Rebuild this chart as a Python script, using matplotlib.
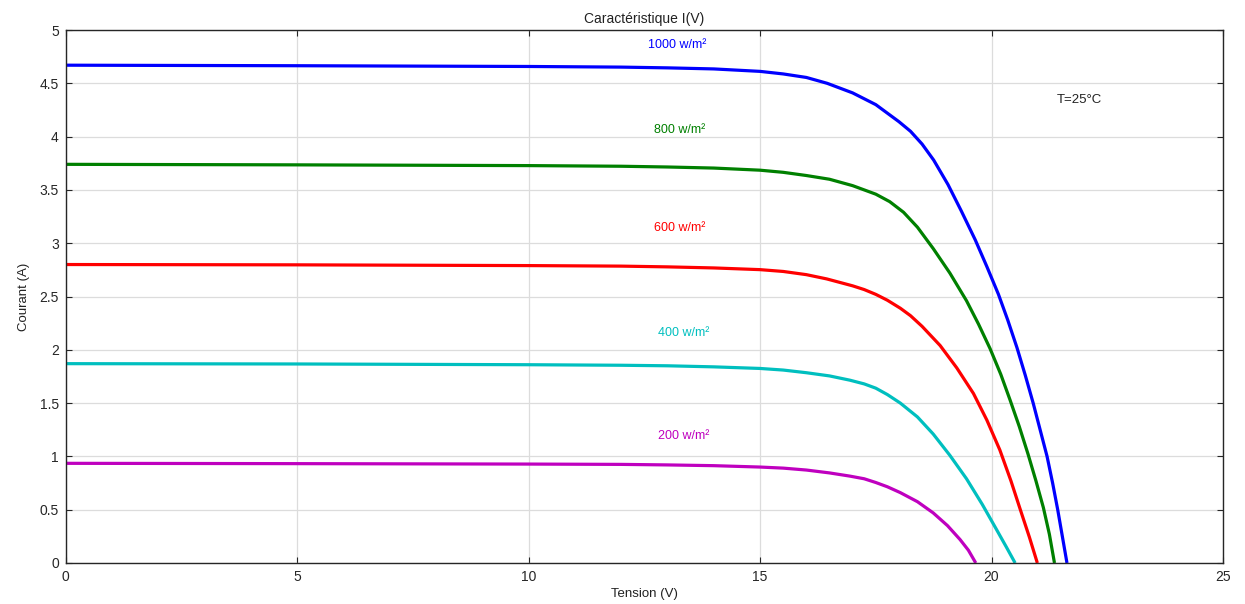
import matplotlib.pyplot as plt

plt.rcParams['font.family'] = ['Liberation Sans', 'DejaVu Sans']

# I(V) curves, one per irradiance
v_1000 = [0, 5, 10, 12, 13, 14, 15, 15.5, 16, 16.45, 17, 17.5, 18, 18.25, 18.5, 18.75, 19.06, 19.35, 19.65, 19.9,
          20.15, 20.35, 20.55, 20.73, 20.9, 21.05, 21.2, 21.32, 21.43, 21.53, 21.63]
i_1000 = [4.670, 4.665, 4.658, 4.652, 4.645, 4.635, 4.612, 4.588, 4.555, 4.50, 4.41, 4.30, 4.14, 4.05, 3.93, 3.78,
          3.55, 3.30, 3.03, 2.78, 2.52, 2.28, 2.02, 1.76, 1.50, 1.25, 1.00, 0.75, 0.50, 0.25, 0]

v_800 = [0, 5, 10, 12, 13, 14, 15, 15.5, 16, 16.5, 17, 17.5, 17.8, 18.1, 18.4, 18.74, 19.1, 19.46, 19.72, 19.97,
         20.2, 20.4, 20.6, 20.79, 20.96, 21.12, 21.25, 21.36]
i_800 = [3.740, 3.735, 3.728, 3.722, 3.715, 3.705, 3.685, 3.665, 3.635, 3.60, 3.54, 3.46, 3.39, 3.29, 3.15, 2.95,
         2.72, 2.46, 2.24, 2.01, 1.77, 1.53, 1.28, 1.02, 0.77, 0.52, 0.27, 0]

v_600 = [0, 5, 10, 12, 13, 14, 15, 15.5, 16, 16.44, 17, 17.25, 17.5, 17.75, 18.03, 18.25, 18.5, 18.89, 19.25,
         19.61, 19.9, 20.18, 20.42, 20.63, 20.82, 20.99]
i_600 = [2.800, 2.797, 2.790, 2.785, 2.778, 2.768, 2.752, 2.735, 2.705, 2.665, 2.60, 2.565, 2.52, 2.465, 2.39,
         2.32, 2.22, 2.04, 1.83, 1.59, 1.34, 1.06, 0.77, 0.49, 0.24, 0]

v_400 = [0, 5, 10, 12, 13, 14, 15, 15.5, 16, 16.5, 16.94, 17.25, 17.5, 17.75, 18.03, 18.4, 18.74, 19.1, 19.46,
         19.8, 20.1, 20.32, 20.51]
i_400 = [1.870, 1.867, 1.860, 1.855, 1.850, 1.840, 1.825, 1.810, 1.785, 1.755, 1.715, 1.68, 1.64, 1.58, 1.50,
         1.37, 1.21, 1.01, 0.79, 0.55, 0.32, 0.15, 0]

v_200 = [0, 5, 10, 12, 13, 14, 15, 15.5, 16, 16.5, 16.94, 17.25, 17.5, 17.75, 18.03, 18.4, 18.74, 19.05, 19.32,
         19.5, 19.66]
i_200 = [0.935, 0.932, 0.928, 0.925, 0.920, 0.913, 0.900, 0.890, 0.872, 0.845, 0.815, 0.79, 0.755, 0.715, 0.66,
         0.575, 0.47, 0.35, 0.22, 0.12, 0]

labels = ['1000 w/m²', '800 w/m²', '600 w/m²', '400 w/m²', '200 w/m²']
label_x = [13.2, 13.27, 13.27, 13.35, 13.35]
label_y = [4.86, 4.06, 3.14, 2.16, 1.19]
colors = ['#0000ff', '#008000', '#ff0000', '#00bfbf', '#bf00bf']

curves = [(v_1000, i_1000), (v_800, i_800), (v_600, i_600), (v_400, i_400), (v_200, i_200)]

fig = plt.figure(figsize=(12.45, 6.04), dpi=100)
ax = fig.add_axes([0.0528, 0.0679, 0.9295, 0.8824])

for (v, i), c in zip(curves, colors):
    ax.plot(v, i, color=c, linewidth=2.3, solid_joinstyle='round', solid_capstyle='butt')

for txt, x, y, c in zip(labels, label_x, label_y, colors):
    ax.text(x, y, txt, color=c, fontsize=9, ha='center', va='center')

ax.text(21.9, 4.34, 'T=25°C', fontsize=9.5, ha='center', va='center', color='#222222')

ax.set_xlim(0, 25)
ax.set_ylim(0, 5)
ax.set_xticks([0, 5, 10, 15, 20, 25])
ax.set_yticks([0, 0.5, 1, 1.5, 2, 2.5, 3, 3.5, 4, 4.5, 5])
ax.set_yticklabels(['0', '0.5', '1', '1.5', '2', '2.5', '3', '3.5', '4', '4.5', '5'])
ax.grid(True, color='#dcdcdc', linewidth=0.9)
ax.set_axisbelow(True)
ax.tick_params(direction='in', top=True, right=True, labelsize=10, colors='#262626', length=4, pad=5)
for s in ax.spines.values():
    s.set_color('#262626')
    s.set_linewidth(1.0)

ax.set_title('Caractéristique I(V)', fontsize=10, color='#222222', pad=5)
ax.set_xlabel('Tension (V)', fontsize=9.5, color='#222222')
ax.xaxis.set_label_coords(0.5, -0.047)
ax.set_ylabel('Courant (A)', fontsize=9.5, color='#222222')
ax.yaxis.set_label_coords(-0.031, 0.5)

fig.savefig('out.png', dpi=100)
